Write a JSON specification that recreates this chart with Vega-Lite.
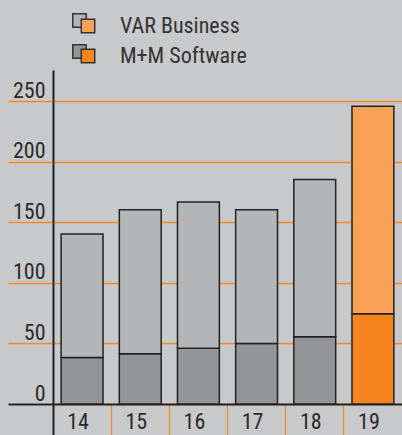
{
  "$schema": "https://vega.github.io/schema/vega-lite/v6.json",
  "width": 349,
  "height": 334,
  "autosize": {"type": "none"},
  "padding": {"left": 53, "top": 70, "right": 0, "bottom": 31},
  "background": "#c8c9cb",
  "config": {
    "view": {"stroke": null},
    "font": "Liberation Sans Narrow, Roboto Condensed, Liberation Sans, sans-serif"
  },
  "data": {
    "values": [
      {"year": "14", "series": "M+M Software", "value": 38.5},
      {"year": "14", "series": "VAR Business", "value": 102},
      {"year": "15", "series": "M+M Software", "value": 41.5},
      {"year": "15", "series": "VAR Business", "value": 119},
      {"year": "16", "series": "M+M Software", "value": 46},
      {"year": "16", "series": "VAR Business", "value": 121},
      {"year": "17", "series": "M+M Software", "value": 50},
      {"year": "17", "series": "VAR Business", "value": 110.5},
      {"year": "18", "series": "M+M Software", "value": 55.5},
      {"year": "18", "series": "VAR Business", "value": 130},
      {"year": "19", "series": "M+M Software", "value": 74.5},
      {"year": "19", "series": "VAR Business", "value": 171.5}
    ]
  },
  "encoding": {
    "x": {
      "field": "year",
      "type": "nominal",
      "scale": {"domain": ["14", "15", "16", "17", "18", "19"], "paddingInner": 0, "paddingOuter": 0},
      "axis": {
        "title": null,
        "labelAngle": 0,
        "bandPosition": 0,
        "domainColor": "#222222",
        "domainWidth": 2,
        "tickSize": 31,
        "tickColor": {"condition": {"test": "datum.value == '14'", "value": "#222222"}, "value": "#f28c28"},
        "tickWidth": {"condition": {"test": "datum.value == '14'", "value": 2}, "value": 1.2},
        "labelFontSize": 22,
        "labelColor": "#2a2a2a",
        "labelBaseline": "alphabetic",
        "labelPadding": -7,
        "labelOffset": -4
      }
    },
    "y": {
      "field": "value",
      "type": "quantitative",
      "stack": "zero",
      "scale": {"domain": [0, 276], "nice": false},
      "axis": {
        "title": null,
        "values": [0, 50, 100, 150, 200, 250],
        "grid": true,
        "gridColor": "#f28c28",
        "gridWidth": 1.3,
        "domainColor": "#222222",
        "domainWidth": 2,
        "tickSize": 45,
        "tickColor": {"condition": {"test": "datum.value == 0", "value": "#222222"}, "value": "#f28c28"},
        "tickWidth": {"condition": {"test": "datum.value == 0", "value": 2}, "value": 1.3},
        "labelFontSize": 22,
        "labelColor": "#2a2a2a",
        "labelPadding": -37,
        "labelBaseline": "alphabetic",
        "labelOffset": -4
      }
    },
    "order": {"field": "series"}
  },
  "layer": [
    {
      "transform": [{"filter": "datum.year != '19'"}],
      "mark": {"type": "bar", "width": {"band": 0.72}, "stroke": "#222222", "strokeWidth": 1.5},
      "encoding": {
        "color": {
          "field": "series",
          "type": "nominal",
          "scale": {"domain": ["VAR Business", "M+M Software"], "range": ["#b4b5b7", "#939598"]},
          "legend": {
            "title": null,
            "orient": "none",
            "legendX": 19,
            "legendY": -57,
            "padding": 0,
            "symbolType": "square",
            "symbolSize": 180,
            "symbolStrokeColor": "#333333",
            "symbolStrokeWidth": 1.5,
            "symbolOpacity": 1,
            "labelExpr": "''",
            "labelFontSize": 1,
            "labelOffset": 0,
            "rowPadding": 10
          }
        }
      }
    },
    {
      "transform": [{"filter": "datum.year == '19'"}],
      "mark": {"type": "bar", "width": {"band": 0.72}, "stroke": "#222222", "strokeWidth": 1.5},
      "encoding": {
        "color": {
          "field": "series",
          "type": "nominal",
          "scale": {"domain": ["VAR Business", "M+M Software"], "range": ["#f9a057", "#f6841f"]},
          "legend": {
            "title": null,
            "orient": "none",
            "legendX": 24,
            "legendY": -55,
            "padding": 0,
            "symbolType": "square",
            "symbolSize": 180,
            "symbolStrokeColor": "#333333",
            "symbolStrokeWidth": 1.5,
            "symbolOpacity": 1,
            "labelFontSize": 22,
            "labelColor": "#333333",
            "labelOffset": 21,
            "rowPadding": 8
          }
        }
      }
    }
  ],
  "resolve": {"scale": {"color": "independent"}, "legend": {"color": "independent"}}
}
